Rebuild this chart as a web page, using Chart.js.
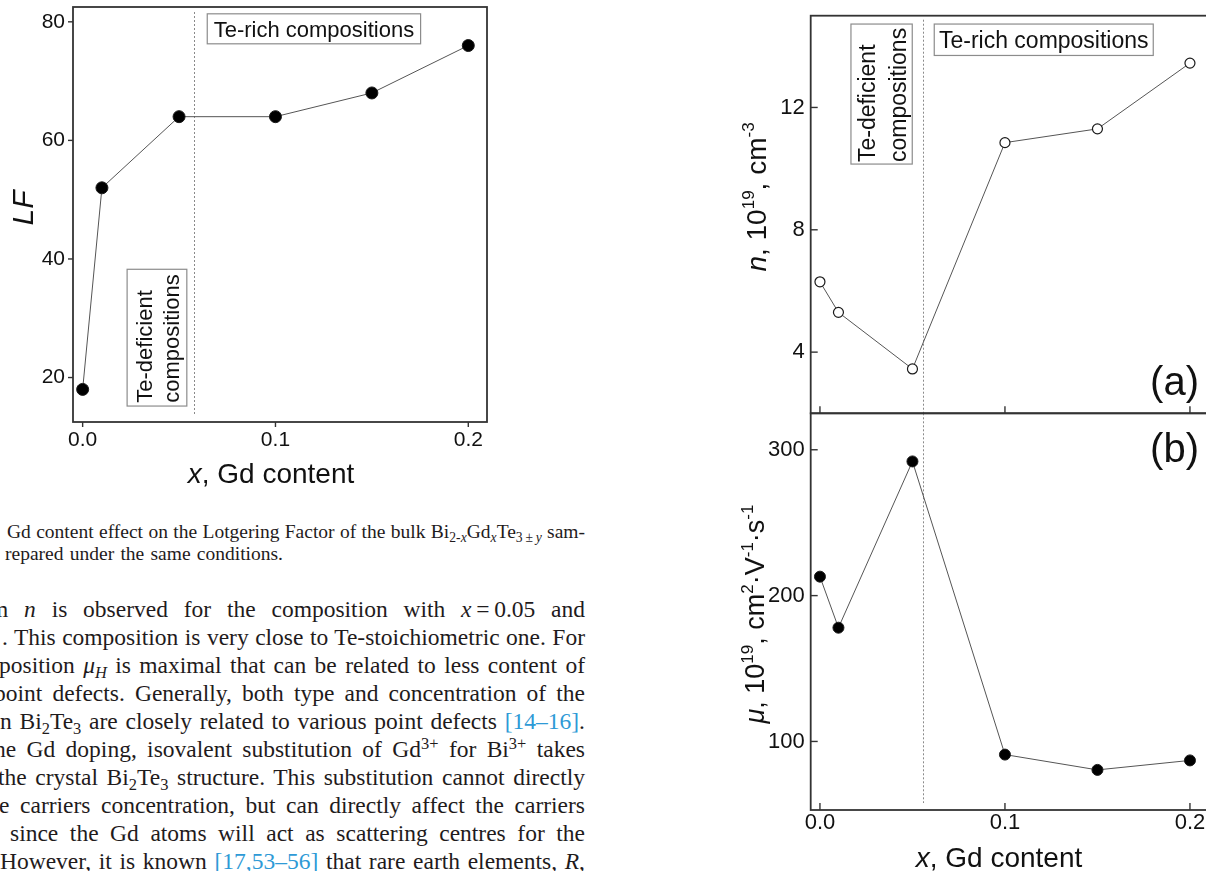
<!DOCTYPE html>
<html><head><meta charset="utf-8">
<script src="https://cdn.jsdelivr.net/npm/chart.js@4.4.1/dist/chart.umd.min.js"></script>
<style>
html,body{margin:0;padding:0;width:1206px;height:871px;overflow:hidden;background:#fff;}
canvas{position:absolute;}
.ln{position:absolute;white-space:nowrap;font-family:"Liberation Serif","Times New Roman",serif;color:#1f1b1c;line-height:1;}
.ref{color:#2e9ad6;}
sub{font-size:0.7em;line-height:0;vertical-align:-0.28em;}
sup{font-size:0.7em;line-height:0;vertical-align:0.5em;}
.mk{display:inline-block;width:0;height:0;}
</style></head><body>
<canvas id="c1" width="500" height="500" style="left:0;top:0"></canvas>
<canvas id="c2" width="520" height="430" style="left:700px;top:0"></canvas>
<canvas id="c3" width="520" height="471" style="left:700px;top:400px"></canvas>
<div id="txt"></div>
<script>
// ---------------- data ----------------
const xValues = [0, 0.01, 0.05, 0.1, 0.15, 0.2];
const lfValues = [18, 52, 64, 64, 68, 76];
const nValues = [6.3, 5.3, 3.45, 10.85, 11.3, 13.45];
const muValues = [213, 178, 292, 91, 80.5, 87];
const xTickValues = [0, 0.1, 0.2];
const xTickLabels = ['0.0', '0.1', '0.2'];
const lfTicks = [20, 40, 60, 80];
const nTicks = [4, 8, 12];
const muTicks = [100, 200, 300];
const boundaryLF = 0.0577;
const boundaryHall = 0.0557;

const SANS = '"Liberation Sans", Arial, sans-serif';
Chart.defaults.font.family = SANS;
Chart.defaults.color = '#111';

function fontFor(s, size) {
  return (s.i ? 'italic ' : '') + (s.sup ? Math.round(size * 0.62) : size) + 'px ' + SANS;
}
function drawRich(ctx, segs, size, x, y, rot) {
  ctx.save();
  ctx.translate(x, y);
  if (rot) ctx.rotate(rot);
  ctx.textBaseline = 'alphabetic';
  ctx.textAlign = 'left';
  ctx.fillStyle = '#111';
  let w = 0;
  for (const s of segs) { ctx.font = fontFor(s, size); w += ctx.measureText(s.t).width; }
  let cx = -w / 2;
  for (const s of segs) {
    ctx.font = fontFor(s, size);
    ctx.fillText(s.t, cx, s.sup ? -size * 0.42 : 0);
    cx += ctx.measureText(s.t).width;
  }
  ctx.restore();
}

const decor = {
  id: 'decor',
  beforeDatasetsDraw(chart, args, o) {
    const ctx = chart.ctx, xs = chart.scales.x, ys = chart.scales.y, a = chart.chartArea;
    if (o.boundary) {
      const px = Math.round(xs.getPixelForValue(o.boundary.x)) + 0.5;
      ctx.save();
      ctx.strokeStyle = '#8a8a8a'; ctx.lineWidth = 1; ctx.setLineDash([2, 2]);
      ctx.beginPath(); ctx.moveTo(px, a.top + o.boundary.topGap); ctx.lineTo(px, a.bottom - o.boundary.bottomGap); ctx.stroke();
      ctx.restore();
    }
    for (const b of (o.boxes || [])) {
      const x1 = xs.getPixelForValue(b.x1), x2 = xs.getPixelForValue(b.x2);
      const y1 = ys.getPixelForValue(b.y1), y2 = ys.getPixelForValue(b.y2);
      ctx.save();
      ctx.fillStyle = '#fff'; ctx.fillRect(x1, y1, x2 - x1, y2 - y1);
      ctx.strokeStyle = '#8c8c8c'; ctx.lineWidth = 1.2; ctx.strokeRect(x1, y1, x2 - x1, y2 - y1);
      ctx.fillStyle = '#111'; ctx.font = b.size + 'px ' + SANS; ctx.textBaseline = 'alphabetic';
      if (b.rotated) {
        b.lines.forEach((t, i) => {
          ctx.save(); ctx.translate(x1 + b.offsets[i], y2 - b.pad); ctx.rotate(-Math.PI / 2);
          ctx.textAlign = 'left'; ctx.fillText(t, 0, 0); ctx.restore();
        });
      } else {
        ctx.textAlign = 'center'; ctx.fillText(b.lines[0], (x1 + x2) / 2, y2 - b.pad);
      }
      ctx.restore();
    }
  },
  afterDraw(chart, args, o) {
    const ctx = chart.ctx, xs = chart.scales.x, ys = chart.scales.y, a = chart.chartArea;
    ctx.save();
    ctx.strokeStyle = '#333'; ctx.lineWidth = 1.8;
    ctx.strokeRect(a.left, a.top, a.right - a.left, a.bottom - a.top);
    ctx.lineWidth = 1.4;
    const d = o.tickDir, L = o.tickLen;
    for (const v of xTickValues) {
      const px = xs.getPixelForValue(v);
      ctx.beginPath(); ctx.moveTo(px, a.bottom); ctx.lineTo(px, a.bottom - d * L); ctx.stroke();
    }
    for (const t of ys.ticks) {
      const py = ys.getPixelForValue(t.value);
      ctx.beginPath(); ctx.moveTo(a.left, py); ctx.lineTo(a.left + d * L, py); ctx.stroke();
    }
    ctx.restore();
    for (const t of (o.titles || [])) drawRich(ctx, t.segs, t.size, t.x, t.y, t.rot);
    for (const p of (o.panel || [])) {
      ctx.save(); ctx.font = p.size + 'px ' + SANS; ctx.fillStyle = '#111';
      ctx.textAlign = 'right'; ctx.textBaseline = 'alphabetic'; ctx.fillText(p.t, p.x, p.y); ctx.restore();
    }
  }
};

function pts(ys) { return xValues.map((x, i) => ({ x: x, y: ys[i] })); }

function makeChart(id, cfg) {
  return new Chart(document.getElementById(id), {
    type: 'line',
    data: { datasets: [{
      data: pts(cfg.values),
      borderColor: '#555', borderWidth: 1, tension: 0,
      pointRadius: cfg.r, pointHoverRadius: cfg.r,
      pointBackgroundColor: cfg.fill, pointBorderColor: '#1a1a1a', pointBorderWidth: cfg.pbw,
      clip: false
    }]},
    options: {
      responsive: false, animation: false, devicePixelRatio: 1, events: [],
      layout: { padding: cfg.pad },
      plugins: { legend: { display: false }, tooltip: { enabled: false }, decor: cfg.decor },
      scales: {
        x: {
          type: 'linear', min: -0.005, max: 0.2097, display: cfg.xDisplay,
          grid: { display: false, drawTicks: false }, border: { display: false },
          afterBuildTicks: s => { s.ticks = xTickValues.map(v => ({ value: v })); },
          afterFit: s => { s.height = cfg.xH; s.paddingLeft = 0; s.paddingRight = 0; s.paddingTop = 0; s.paddingBottom = 0; },
          ticks: { autoSkip: false, maxRotation: 0, padding: cfg.xPad, font: { size: cfg.tickSize },
                   callback: (v, i) => xTickLabels[i] }
        },
        y: {
          type: 'linear', min: cfg.yMin, max: cfg.yMax,
          grid: { display: false, drawTicks: false }, border: { display: false },
          afterBuildTicks: s => { s.ticks = cfg.yTicks.map(v => ({ value: v })); },
          afterFit: s => { s.width = cfg.yW; s.paddingTop = 0; s.paddingBottom = 0; s.paddingLeft = 0; s.paddingRight = 0; },
          ticks: { padding: cfg.yPad, font: { size: cfg.tickSize }, callback: v => String(v) }
        }
      }
    },
    plugins: [decor]
  });
}

// Left chart: Lotgering factor
makeChart('c1', {
  values: lfValues, r: 6, fill: '#000', pbw: 1,
  pad: { left: 0, top: 7, right: 13, bottom: 0 },
  xDisplay: true, xH: 78, xPad: 6, yW: 73, yPad: 8, tickSize: 21,
  yMin: 12.5, yMax: 82.5, yTicks: lfTicks,
  decor: {
    tickDir: -1, tickLen: 5,
    boundary: { x: boundaryLF, topGap: 5, bottomGap: 7 },
    boxes: [
      { x1: 0.06462, x2: 0.17527, y1: 81.35, y2: 76.29, size: 22, lines: ['Te-rich compositions'], pad: 7.3 },
      { x1: 0.02306, x2: 0.05403, y1: 38.26, y2: 15.19, size: 22, rotated: true,
        lines: ['Te-deficient', 'compositions'], offsets: [25.3, 52.3], pad: 3.3 }
    ],
    titles: [
      { segs: [{ t: 'LF', i: 1 }], size: 30, x: 33, y: 208, rot: -Math.PI / 2 },
      { segs: [{ t: 'x', i: 1 }, { t: ', Gd content' }], size: 28, x: 271, y: 483 }
    ]
  }
});

// Right chart, panel (a): carrier concentration
makeChart('c2', {
  values: nValues, r: 5, fill: '#fff', pbw: 1.2,
  pad: { left: 0, top: 15.7, right: 12.1, bottom: 16.7 },
  xDisplay: false, xH: 0, xPad: 0, yW: 110.7, yPad: 6, tickSize: 22,
  yMin: 2, yMax: 15, yTicks: nTicks,
  decor: {
    tickDir: 1, tickLen: 7,
    boundary: { x: boundaryHall, topGap: 4, bottomGap: 0 },
    boxes: [
      { x1: 0.01676, x2: 0.04989, y1: 14.727, y2: 10.149, size: 23, rotated: true,
        lines: ['Te-deficient', 'compositions'], offsets: [24.5, 55], pad: 2 },
      { x1: 0.06178, x2: 0.18016, y1: 14.727, y2: 13.70, size: 23, lines: ['Te-rich compositions'], pad: 7.4 }
    ],
    titles: [
      { segs: [{ t: 'n', i: 1 }, { t: ', 10' }, { t: '19', sup: 1 }, { t: ', cm' }, { t: '-3', sup: 1 }],
        size: 28, x: 66, y: 197, rot: -Math.PI / 2 }
    ],
    panel: [{ t: '(a)', size: 40, x: 499, y: 395 }]
  }
});

// Right chart, panel (b): mobility
makeChart('c3', {
  values: muValues, r: 5.5, fill: '#000', pbw: 1,
  pad: { left: 0, top: 13.3, right: 12.1, bottom: 0 },
  xDisplay: true, xH: 61, xPad: 0, yW: 110.7, yPad: 6, tickSize: 22,
  yMin: 53, yMax: 325, yTicks: muTicks,
  decor: {
    tickDir: 1, tickLen: 7,
    boundary: { x: boundaryHall, topGap: 0, bottomGap: 7 },
    titles: [
      { segs: [{ t: 'μ', i: 1 }, { t: ', 10' }, { t: '19', sup: 1 }, { t: ', cm' }, { t: '2', sup: 1 },
               { t: '·V' }, { t: '-1', sup: 1 }, { t: '·s' }, { t: '-1', sup: 1 }],
        size: 27, x: 64, y: 214, rot: -Math.PI / 2 },
      { segs: [{ t: 'x', i: 1 }, { t: ', Gd content' }], size: 28, x: 299, y: 466.5 }
    ],
    panel: [{ t: '(b)', size: 40, x: 499, y: 61.7 }]
  }
});

// ---------------- page text ----------------
const captionLines = [
  { left: 7, right: 585, base: 538, size: 19.5,
    html: 'Gd content effect on the Lotgering Factor of the bulk Bi<sub>2-<i>x</i></sub>Gd<sub><i>x</i></sub>Te<sub>3\u2009±\u2009<i>y</i></sub> sam-' },
  { left: 5, right: 283, base: 560, size: 19.5, html: 'repared under the same conditions.' }
];
const paraLines = [
  { left: -10, base: 616.5, html: 'm <i>n</i> is observed for the composition with <i>x</i>\u2009=\u20090.05 and' },
  { left: 2, base: 644.5, html: '. This composition is very close to Te-stoichiometric one. For' },
  { left: -1, base: 672.5, html: 'position <i>μ<sub>H</sub></i> is maximal that can be related to less content of' },
  { left: -6, base: 700.5, html: 'point defects. Generally, both type and concentration of the' },
  { left: 0, base: 728.5, html: 'n Bi<sub>2</sub>Te<sub>3</sub> are closely related to various point defects <span class="ref">[14–16]</span>.' },
  { left: -6, base: 756.5, html: 'he Gd doping, isovalent substitution of Gd<sup>3+</sup> for Bi<sup>3+</sup> takes' },
  { left: -2, base: 784.5, html: 'the crystal Bi<sub>2</sub>Te<sub>3</sub> structure. This substitution cannot directly' },
  { left: -1, base: 812.5, html: 'e carriers concentration, but can directly affect the carriers' },
  { left: 10, base: 840.5, html: 'since the Gd atoms will act as scattering centres for the' },
  { left: 0, base: 868.5, html: 'However, it is known <span class="ref">[17,53–56]</span> that rare earth elements, <i>R</i>,' }
];
const txt = document.getElementById('txt');
function placeLine(l, size, right) {
  const el = document.createElement('div');
  el.className = 'ln';
  el.style.fontSize = size + 'px';
  el.style.left = l.left + 'px';
  el.style.top = '0px';
  el.innerHTML = '<span class="mk"></span>' + l.html;
  txt.appendChild(el);
  const w = el.getBoundingClientRect().width;
  const nSp = (el.textContent.match(/ /g) || []).length;
  if (nSp > 0) el.style.wordSpacing = ((right - l.left - w) / nSp) + 'px';
  const mk = el.querySelector('.mk');
  const off = mk.getBoundingClientRect().top - el.getBoundingClientRect().top;
  el.style.top = (l.base - off) + 'px';
}
captionLines.forEach(l => placeLine(l, l.size, l.right));
paraLines.forEach(l => placeLine(l, 23.5, 585));
</script>
</body></html>
